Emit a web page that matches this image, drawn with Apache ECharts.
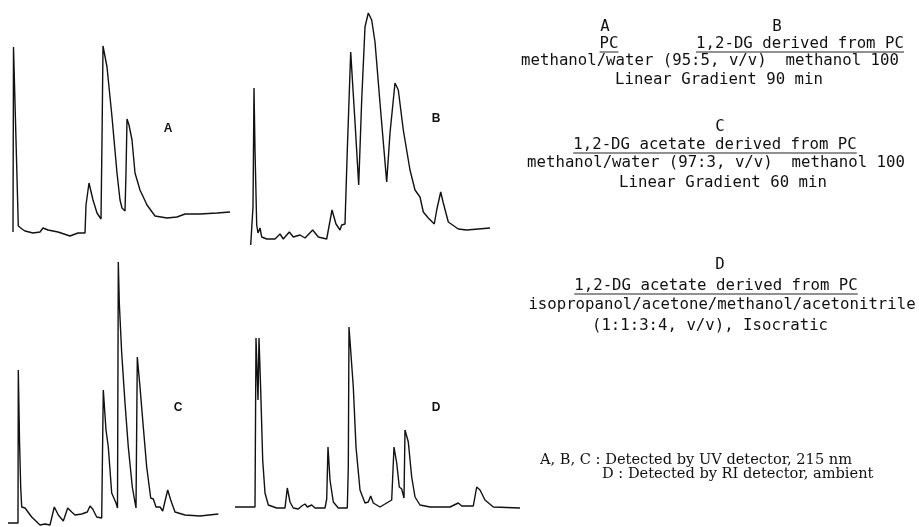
<!DOCTYPE html>
<html><head><meta charset="utf-8">
<script src="https://cdn.jsdelivr.net/npm/echarts@6/dist/echarts.min.js"></script>
<style>html,body{margin:0;padding:0;background:#fff}#c{width:919px;height:527px}</style>
</head><body><div id="c"></div>
<script>
// Chromatogram A: PC (retention, detector response in recorder units)
const tA = [3,3.5,6,8.3,10,12,15,23,30,33,38,48,54,60,68,75,76,79,83,87,91,92,93,94,97,102,107,110,112,115,116,117,119,122,125,130,137,145,157,167,175,190,207,220];
const yA = [18,203,110,24,26,21,19,17,18,22,20,18,16,14,17,17,45,67,50,37,31,110,204,202,183,133,77,50,42,39,77,131,125,110,77,60,45,34,32,33,36,36,37,38];
// Chromatogram B: 1,2-DG derived from PC
const tB = [5.7,8,9,10,11.7,13,15,16.7,21.7,30,35,38.3,44.3,48.3,55,60,67.7,73.3,81.7,87,91,95,96.7,100,102.3,105.7,107.7,110.3,113.7,116.7,120,123.3,126.7,130,135,141.7,145,150,153.3,158.3,165,170,175,178.3,183.3,189.3,191.7,195.7,198.3,203.3,213.3,221.7,245];
const yB = [5,43,162,100,25,17,22,13,11,11,16,11,18,13,15,12,20,13,11,40,26,20,25,26,100,198,197,123,65,150,223,237,230,208,147,68,117,167,160,120,80,60,53,38,32,26,40,58,47,28,21,20,22];
// Chromatogram C: 1,2-DG acetate derived from PC (gradient)
const tC = [3,13,13.3,14.5,15.7,16.7,20,26.7,35,40,45,49.3,53.3,58.3,62.7,66.7,70,76.7,82.3,85,87.7,91.7,96.7,98.3,99.3,101,103.3,106.7,111,112.5,113.3,114.3,116.7,120,123.3,127.3,131,132.3,133.3,135,138.3,141.7,145.7,148.3,151,155,157.7,162.7,165.7,170,180,195,213.3];
const yC = [4,4,157,87,40,20,19,10,2,3,2,20,12,6,19,15,12,13,15,21,18,10,9,137,138,97,80,34,24,19,265,224,174,124,80,40,19,170,172,140,100,60,29,28,20,20,16,37,27,15,12,11,13];
// Chromatogram D: 1,2-DG acetate derived from PC (isocratic, RI)
const tD = [5,25,26,27.5,28,29,30,30.7,32.7,35,38.3,46.7,55,57.3,60,63.3,68.3,71.7,73,75,77.3,81.7,85,95,96.7,98,100,103.3,108.3,117.3,118.3,119,120,123.3,126,130,135,138.3,140.7,143.3,150,161.7,164,166.7,169.3,171.7,174,175,178.3,181.7,185,190,200,220,228.3,231.7,243.3,246.7,250,255,263.3,290];
const yD = [20,20,189,189,127,189,187,137,67,34,22,19,19,39,25,19,18,21,19,23,20,22,19,19,28,80,47,25,19,19,60,200,199,140,80,37,24,25,31,24,20,27,80,64,40,38,29,97,85,50,30,22,20,20,24,21,21,40,37,27,20,19];

const panelNames = ['A','B','C','D'];
const rightText = [
  ['A', 605, 27, false], ['B', 777, 27, false],
  ['PC', 609, 44, true], ['1,2-DG derived from PC', 800, 44, true],
  ['methanol/water (95:5, v/v)  methanol 100', 710, 61, false],
  ['Linear Gradient 90 min', 719, 80, false],
  ['C', 720, 127, false],
  ['1,2-DG acetate derived from PC', 715, 145, true],
  ['methanol/water (97:3, v/v)  methanol 100', 716, 163, false],
  ['Linear Gradient 60 min', 723, 183, false],
  ['D', 720, 265, false],
  ['1,2-DG acetate derived from PC', 716, 286, true],
  ['isopropanol/acetone/methanol/acetonitrile', 722, 305, false],
  ['(1:1:3:4, v/v), Isocratic', 710, 326, false]
];
const detNotes = ['A, B, C : Detected by UV detector, 215 nm', 'D : Detected by RI detector, ambient'];

const chart = echarts.init(document.getElementById('c'), null, {renderer:'canvas'});
const grids = [
  {left:10, top:0, width:225, height:250},
  {left:245, top:0, width:250, height:250},
  {left:5, top:255, width:230, height:272},
  {left:230, top:255, width:295, height:272}
];
const xs = [], ys = [], series = [];
const dataT = [tA,tB,tC,tD], dataY = [yA,yB,yC,yD];
grids.forEach((g,i)=>{
  xs.push({type:'value', gridIndex:i, min:0, max:g.width, show:false});
  ys.push({type:'value', gridIndex:i, min:0, max:g.height, show:false});
  series.push({type:'line', name:panelNames[i], xAxisIndex:i, yAxisIndex:i, showSymbol:false, symbol:'none',
    data: dataT[i].map((t,k)=>[t, dataY[i][k]]),
    lineStyle:{color:'#111', width:1.4}, smooth:false});
});
const FS = 15.7, CW = FS*0.602;
const graphic = [];
rightText.forEach(([s,x,y,u])=>{
  graphic.push({type:'text', x:x, y:y, style:{text:s, font:FS+'px "DejaVu Sans Mono"', fill:'#111', align:'center', verticalAlign:'middle'}});
  if(u){
    const w = s.length*CW;
    graphic.push({type:'line', shape:{x1:x-w/2, y1:y+8, x2:x+w/2, y2:y+8}, style:{stroke:'#222', lineWidth:1}});
  }
});
const panelLabelPos = [[168,129],[436,119],[178,408],[436,408]];
panelLabelPos.forEach((p,i)=>{
  graphic.push({type:'text', x:p[0], y:p[1], style:{text:panelNames[i], font:'bold 12px "Liberation Sans"', fill:'#111', align:'center', verticalAlign:'middle'}});
});
const detPos = [[540,460],[602,474]];
detNotes.forEach((s,i)=>{
  graphic.push({type:'text', x:detPos[i][0], y:detPos[i][1], style:{text:s, font:'14.6px "DejaVu Serif"', fill:'#111', align:'left', verticalAlign:'middle'}});
});
chart.setOption({animation:false, backgroundColor:'#fff', grid:grids, xAxis:xs, yAxis:ys, series:series, graphic:graphic});
</script></body></html>
